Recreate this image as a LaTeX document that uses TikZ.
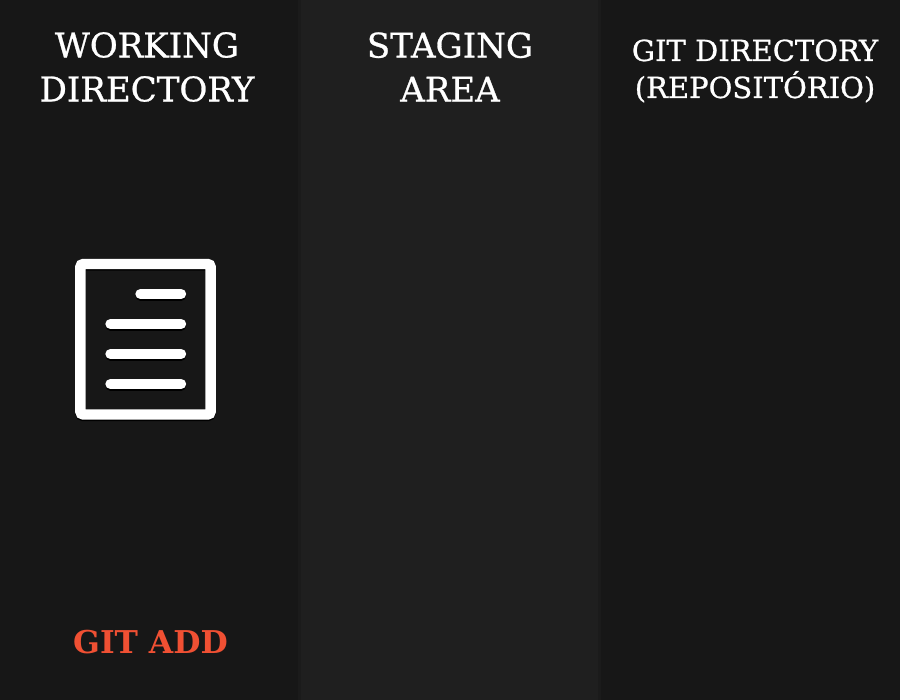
\documentclass[tikz,border=0pt]{standalone}
\usepackage{fontspec}
\setmainfont{DejaVu Serif}
\newfontfamily\titlefont[FakeBold=0.8]{DejaVu Serif}
\definecolor{coldark}{HTML}{171717}
\definecolor{collight}{HTML}{1F1F1F}
\definecolor{coledge}{HTML}{1B1B1B}
\definecolor{coladd}{HTML}{F05033}
\begin{document}
\begin{tikzpicture}[x=1pt,y=-1pt,
        title/.style = {white,align=center,font=\titlefont\fontsize{34}{44}\selectfont},
        frame/.style = {line width=10.4pt,rounded corners=3pt},
        bar/.style = {line width=10.4pt,line cap=round}]
    \useasboundingbox (0,0) rectangle (900,700);

    \fill[coldark]  (0,0)   rectangle (300,700);
    \fill[collight] (300,0) rectangle (600,700);
    \fill[coldark]  (600,0) rectangle (900,700);
    \fill[coledge]  (298,0) rectangle (301,700);
    \fill[coledge]  (598,0) rectangle (601,700);

    \node[title] (working) at (147,67)  {WORKING\\DIRECTORY};
    \node[title] (staging) at (450,67)  {STAGING\\AREA};
    \node[title,font=\titlefont\fontsize{29}{37}\selectfont] (gitdir) at (755,71) {GIT DIRECTORY\\(REPOSITÓRIO)};

    % shadow first, then the white sheet
    \draw[black,frame] (80.4,265.5) rectangle (210.6,416);
    \draw[black,bar] (140.5,295.5) -- (181,295.5);
    \draw[black,bar] (110.5,325.5) -- (181,325.5);
    \draw[black,bar] (110.5,355.5) -- (181,355.5);
    \draw[black,bar] (110.5,385.5) -- (181,385.5);

    \draw[white,frame] (80.4,264) rectangle (210.6,414.5);
    \draw[white,bar] (140.5,294) -- (181,294);
    \draw[white,bar] (110.5,324) -- (181,324);
    \draw[white,bar] (110.5,354) -- (181,354);
    \draw[white,bar] (110.5,384) -- (181,384);

    \node[font=\bfseries\fontsize{31.4}{40}\selectfont,text=coladd] (gitadd) at (150.5,642) {GIT ADD};
\end{tikzpicture}
\end{document}
